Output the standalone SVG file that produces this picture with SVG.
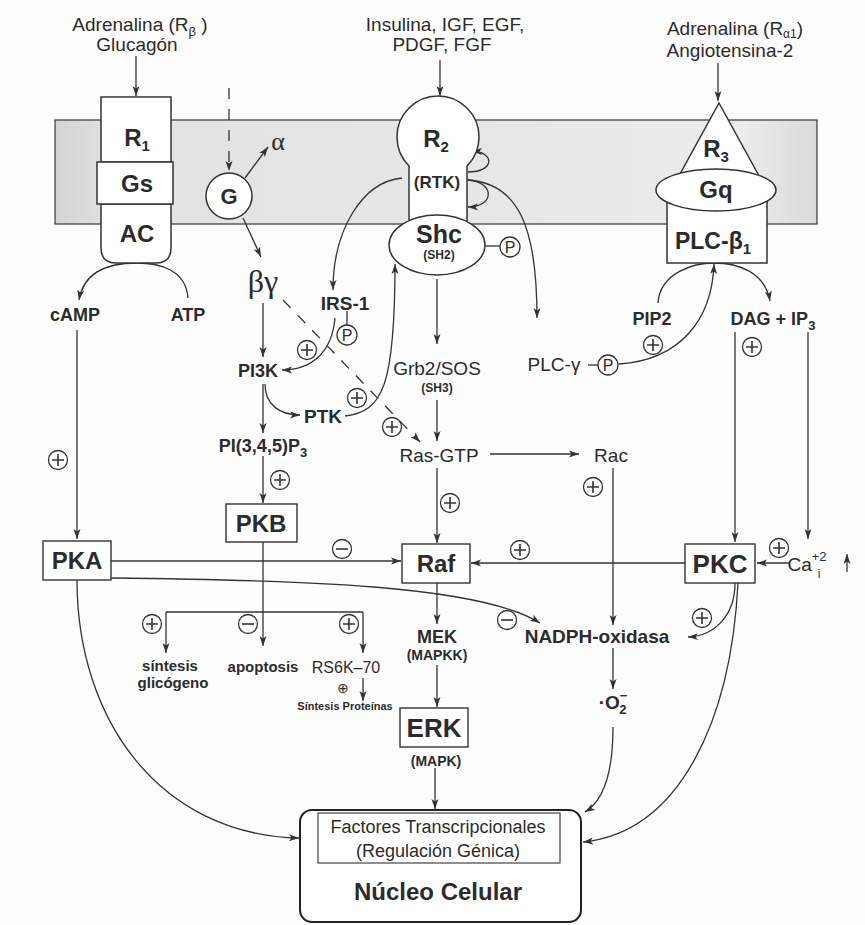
<svg xmlns="http://www.w3.org/2000/svg" width="865" height="925" viewBox="0 0 865 925">
<defs>
<linearGradient id="mem" x1="0" x2="1" y1="0" y2="0">
<stop offset="0" stop-color="#d4d4d4"/>
<stop offset="0.08" stop-color="#e2e2e2"/>
<stop offset="0.5" stop-color="#e6e6e6"/>
<stop offset="0.9" stop-color="#ececec"/>
<stop offset="1" stop-color="#dadada"/>
</linearGradient>
<marker id="ah" viewBox="0 0 10 8" refX="10" refY="4" markerWidth="10" markerHeight="8" markerUnits="userSpaceOnUse" orient="auto">
<path d="M0,0.5 L10,4 L0,7.5 L2.5,4 z" fill="#333"/>
</marker>
<g id="plus"><circle r="9.5" fill="#fff" stroke="#333" stroke-width="1.3"/><path d="M-6,0 H6 M0,-6 V6" stroke="#333" stroke-width="1.6"/></g>
<g id="minus"><circle r="9.5" fill="#fff" stroke="#333" stroke-width="1.3"/><path d="M-6,0 H6" stroke="#333" stroke-width="1.6"/></g>
<g id="pc"><circle r="10" fill="#fff" stroke="#333" stroke-width="1.3"/><text y="6" style="font-family:'Liberation Sans',Arial,sans-serif;font-size:16px;fill:#2b2b2b;text-anchor:middle">P</text></g>
</defs>
<style>
.t{font-family:"Liberation Sans",Arial,sans-serif;fill:#2b2b2b;text-anchor:middle}
.b{font-weight:bold}
.s{font-family:"Liberation Serif","Times New Roman",serif;fill:#2b2b2b;text-anchor:middle}
.ln{fill:none;stroke:#333;stroke-width:1.3}
.ar{marker-end:url(#ah)}
.da{stroke-dasharray:11 10}
.sh{fill:#fff;stroke:#333;stroke-width:1.5}
.bx{fill:#fff;stroke:#333;stroke-width:1.4}
</style>
<rect width="865" height="925" fill="#fdfdfd"/>

<g id="membrane"><rect x="55" y="120" width="762" height="104" fill="url(#mem)" stroke="#444" stroke-width="1.3"/></g>

<g id="headers">
<text class="t" x="140" y="31" font-size="19" fill="#444">Adrenalina (R<tspan font-size="13" dy="5">β</tspan><tspan dy="-5"> )</tspan></text>
<text class="t" x="137" y="51" font-size="19">Glucagón</text>
<text class="t" x="445" y="31" font-size="19">Insulina, IGF, EGF,</text>
<text class="t" x="442" y="51" font-size="19">PDGF, FGF</text>
<text class="t" x="735" y="35" font-size="19">Adrenalina (R<tspan font-size="12" dy="3">α1</tspan><tspan dy="-3">)</tspan></text>
<text class="t" x="730" y="57" font-size="19">Angiotensina-2</text>
</g>

<g id="connectors">
<path class="ln ar" d="M136 56 V96"/>
<path class="ln ar" d="M440 60 V96"/>
<path class="ln ar" d="M718 63 V101"/>
<path class="ln ar da" d="M229 88 V171"/>
<path class="ln ar" d="M245 178 L268 147"/>
<path class="ln ar" d="M243 218 L261 257"/>
<path class="ln ar" d="M188 298 C186 270 160 263 137 263 C110 263 84 270 79 300"/>
<path class="ln ar" d="M77 330 V539"/>
<path class="ln ar" d="M263 303 V357"/>
<path class="ln ar" d="M263 384 V433"/>
<path class="ln ar" d="M265 384 C265 405 280 415 300 415"/>
<path class="ln ar" d="M263 456 V503"/>
<path class="ln ar" d="M402 178 C362 182 333 230 333 290"/>
<path class="ln" d="M347 311 V325"/>
<path class="ln ar" d="M335 318 C332 352 312 370 282 370"/>
<path class="ln ar" d="M345 416 C383 412 395 385 395 264"/>
<path class="ln ar da" d="M283 300 L420 442"/>
<path class="ln ar" d="M466 180 C520 182 537 230 537 318"/>
<path class="ln ar" d="M468 172 C495 172 495 152 472 151"/>
<path class="ln ar" d="M468 180 C495 182 495 207 468 207"/>
<path class="ln" d="M485 246 H500"/>
<path class="ln ar" d="M437 279 V344"/>
<path class="ln ar" d="M437 400 V441"/>
<path class="ln ar" d="M490 454 H579"/>
<path class="ln ar" d="M437 468 V543"/>
<path class="ln ar" d="M111 561 H401"/>
<path class="ln ar" d="M685 563 H471"/>
<path class="ln ar" d="M111 578 C300 580 480 585 540 623"/>
<path class="ln ar" d="M437 583 V624"/>
<path class="ln ar" d="M437 665 V707"/>
<path class="ln ar" d="M435 768 V809"/>
<path class="ln ar" d="M263 542 V646"/>
<path class="ln" d="M166 612 H363"/>
<path class="ln ar" d="M166 612 V653"/>
<path class="ln ar" d="M363 612 V653"/>
<path class="ln ar" d="M363 678 V701"/>
<path class="ln ar" d="M77 580 C77 720 160 835 299 838"/>
<path class="ln" d="M588 365 H598"/>
<path class="ln ar" d="M619 364 C680 360 712 320 714 264"/>
<path class="ln ar" d="M658 303 C660 272 695 263 714 263 C738 263 765 272 770 301"/>
<path class="ln ar" d="M735 332 V542"/>
<path class="ln ar" d="M808 332 V539"/>
<path class="ln ar" d="M790 563 H757"/>
<path class="ln ar" d="M735 583 C735 615 715 636 688 637"/>
<path class="ln ar" d="M738 583 C731 720 680 832 583 842"/>
<path class="ln ar" d="M613 468 V625"/>
<path class="ln ar" d="M613 648 V689"/>
<path class="ln ar" d="M613 727 C613 770 605 800 585 812"/>
<path class="ln ar" d="M847 572 V554"/>
</g>

<g id="signs">
<use href="#plus" x="58" y="460"/>
<use href="#plus" x="280" y="480"/>
<use href="#plus" x="307" y="350"/>
<use href="#plus" x="357" y="398"/>
<use href="#plus" x="392" y="427"/>
<use href="#plus" x="450" y="503"/>
<use href="#minus" x="342" y="549"/>
<use href="#plus" x="520" y="550"/>
<use href="#minus" x="507" y="620"/>
<use href="#plus" x="152" y="624"/>
<use href="#minus" x="248" y="624"/>
<use href="#plus" x="349" y="624"/>
<use href="#plus" x="653" y="345"/>
<use href="#plus" x="752" y="347"/>
<use href="#plus" x="593" y="487"/>
<use href="#plus" x="779" y="548"/>
<use href="#plus" x="702" y="618"/>
</g>

<g id="R1">
<rect class="sh" x="101" y="97" width="70" height="65"/>
<path class="sh" d="M101 204 H171 V248 Q171 263 156 263 H116 Q101 263 101 248 Z"/>
<rect class="sh" x="97" y="162" width="76" height="42"/>
<text class="t b" x="137" y="146" font-size="24">R<tspan font-size="15" dy="5">1</tspan></text>
<text class="t b" x="137" y="192" font-size="24">Gs</text>
<text class="t b" x="137" y="242" font-size="24">AC</text>
</g>

<g id="G">
<circle class="sh" cx="229" cy="196" r="23"/>
<text class="t b" x="229" y="204" font-size="22">G</text>
<text class="s" x="278" y="150" font-size="26">α</text>
<text class="s" x="263" y="292" font-size="32">βγ</text>
</g>

<g id="R2">
<path class="sh" d="M409 228 V166 A41 41 0 1 1 467 166 V228"/>
<text class="t b" x="436" y="147" font-size="24">R<tspan font-size="15" dy="5">2</tspan></text>
<text class="t b" x="437" y="188" font-size="17">(RTK)</text>
</g>

<g id="Shc">
<ellipse class="sh" cx="437" cy="245" rx="48" ry="30"/>
<text class="t b" x="439" y="243" font-size="25">Shc</text>
<text class="t b" x="439" y="259" font-size="12">(SH2)</text>
<use href="#pc" x="510" y="247"/>
</g>

<g id="R3">
<path class="sh" d="M719 103 L764 185 H674 Z"/>
<rect class="sh" x="667" y="200" width="100" height="63"/>
<ellipse class="sh" cx="716" cy="190" rx="60" ry="21"/>
<text class="t b" x="716" y="157" font-size="24">R<tspan font-size="15" dy="5">3</tspan></text>
<text class="t b" x="716" y="198" font-size="24">Gq</text>
<text class="t b" x="713" y="249" font-size="23">PLC-β<tspan font-size="15" dy="5">1</tspan></text>
</g>

<g id="cAMP"><text class="t b" x="75" y="321" font-size="18">cAMP</text></g>
<g id="ATP"><text class="t b" x="188" y="321" font-size="18">ATP</text></g>
<g id="PI3K"><text class="t b" x="258" y="377" font-size="18">PI3K</text></g>
<g id="PTK"><text class="t b" x="323" y="423" font-size="19">PTK</text></g>
<g id="PIP3"><text class="t b" x="263" y="452" font-size="18">PI(3,4,5)P<tspan font-size="13" dy="5">3</tspan></text></g>
<g id="IRS1"><text class="t b" x="345" y="310" font-size="19">IRS-1</text><use href="#pc" x="347" y="335"/></g>
<g id="Grb2"><text class="t" x="437" y="375" font-size="19">Grb2/SOS</text><text class="t b" x="437" y="392" font-size="12">(SH3)</text></g>
<g id="Ras"><text class="t" x="439" y="462" font-size="19">Ras-GTP</text></g>
<g id="Rac"><text class="t" x="611" y="462" font-size="19">Rac</text></g>
<g id="PLCg"><text class="t" x="554" y="371" font-size="19">PLC-γ</text><use href="#pc" x="608" y="365"/></g>
<g id="PIP2"><text class="t b" x="652" y="325" font-size="18">PIP2</text></g>
<g id="DAG"><text class="t b" x="773" y="325" font-size="18">DAG + IP<tspan font-size="13" dy="5">3</tspan></text></g>

<g id="PKA"><rect class="bx" x="43" y="541" width="68" height="39"/><text class="t b" x="77" y="569" font-size="24">PKA</text></g>
<g id="PKB"><rect class="bx" x="226" y="504" width="71" height="38"/><text class="t b" x="261" y="532" font-size="24">PKB</text></g>
<g id="Raf"><rect class="bx" x="402" y="544" width="68" height="39"/><text class="t b" x="436" y="572" font-size="24">Raf</text></g>
<g id="PKC"><rect class="bx" x="685" y="544" width="70" height="39"/><text class="t b" x="720" y="573" font-size="26">PKC</text></g>
<g id="Ca"><text class="t" x="807" y="571" font-size="19">Ca<tspan font-size="13" dy="-10">+2</tspan></text><text class="t" x="819" y="578" font-size="12">i</text></g>

<g id="MEK"><text class="t b" x="437" y="643" font-size="18" fill="#555">MEK</text><text class="t b" x="437" y="660" font-size="14">(MAPKK)</text></g>
<g id="ERK"><rect class="bx" x="400" y="708" width="68" height="39"/><text class="t b" x="434" y="737" font-size="26">ERK</text><text class="t b" x="436" y="766" font-size="14">(MAPK)</text></g>
<g id="NADPH"><text class="t b" x="597" y="643" font-size="19">NADPH-oxidasa</text></g>
<g id="O2"><text class="t b" x="613" y="709" font-size="19">·O<tspan font-size="13" dy="-9">−</tspan><tspan font-size="13" dx="-8" dy="14">2</tspan></text></g>

<g id="PKBtargets">
<text class="t b" x="170" y="671" font-size="15" fill="#444">síntesis</text>
<text class="t b" x="173" y="688" font-size="15" fill="#444">glicógeno</text>
<text class="t b" x="263" y="672" font-size="15" fill="#444">apoptosis</text>
<text class="t" x="346" y="673" font-size="16" fill="#444">RS6K–70</text>
<text class="t" x="343" y="693" font-size="14" fill="#444">⊕</text>
<text class="t b" x="345" y="710" font-size="11" fill="#444">Síntesis Proteínas</text>
</g>

<g id="nucleus">
<rect x="300" y="810" width="281" height="112" rx="12" fill="#fff" stroke="#222" stroke-width="2"/>
<rect x="318" y="813" width="242" height="50" fill="none" stroke="#444" stroke-width="1.2"/>
<text class="t" x="438" y="833" font-size="18">Factores Transcripcionales</text>
<text class="t" x="438" y="857" font-size="18">(Regulación Génica)</text>
<text class="t b" x="438" y="900" font-size="24" fill="#111">Núcleo Celular</text>
</g>
</svg>
